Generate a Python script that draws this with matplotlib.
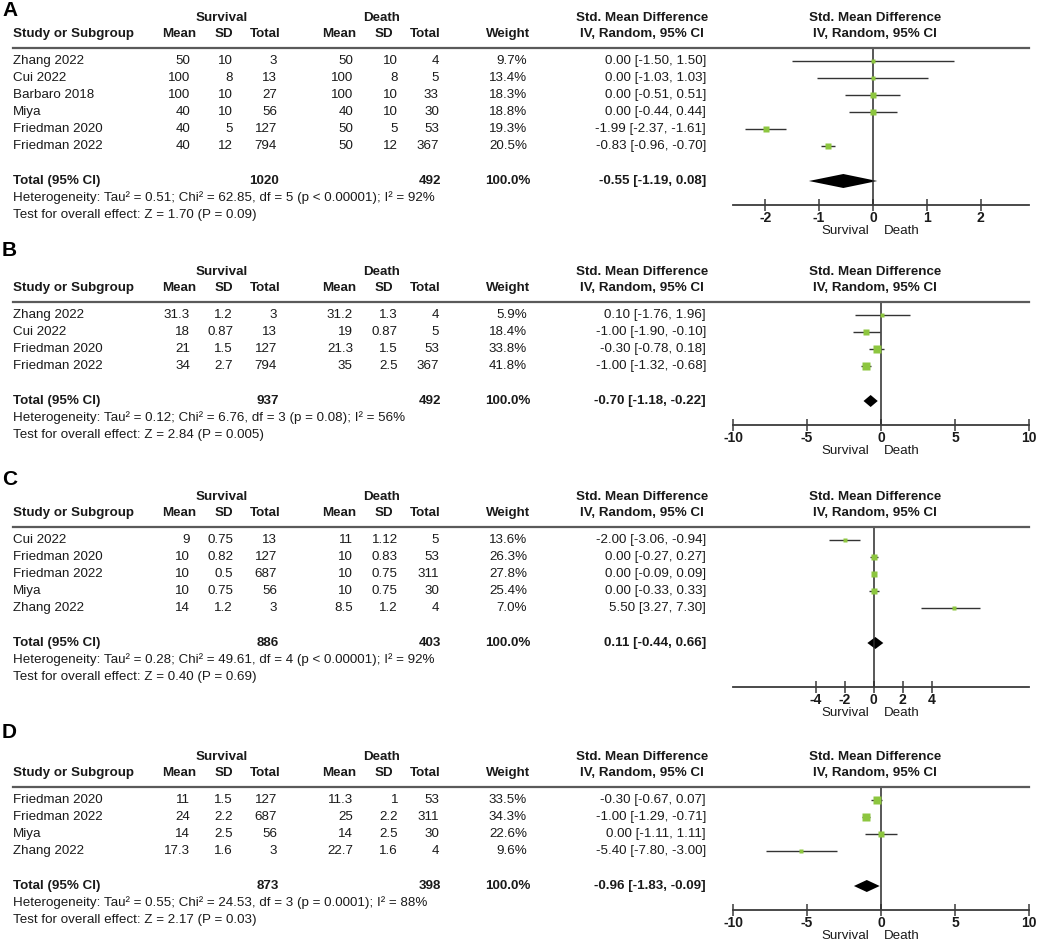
import numpy as np
import matplotlib
matplotlib.use("Agg")
import matplotlib.pyplot as plt
from matplotlib.lines import Line2D

plt.rcParams['font.family'] = ['Liberation Sans', 'DejaVu Sans']
plt.rcParams['axes.unicode_minus'] = False

# ---- data (one block per panel) ----
panel_labels = ["A", "B", "C", "D"]

studies = [
    ["Zhang 2022", "Cui 2022", "Barbaro 2018", "Miya", "Friedman 2020", "Friedman 2022"],
    ["Zhang 2022", "Cui 2022", "Friedman 2020", "Friedman 2022"],
    ["Cui 2022", "Friedman 2020", "Friedman 2022", "Miya", "Zhang 2022"],
    ["Friedman 2020", "Friedman 2022", "Miya", "Zhang 2022"],
]
surv_mean = [[50, 100, 100, 40, 40, 40], [31.3, 18, 21, 34], [9, 10, 10, 10, 14], [11, 24, 14, 17.3]]
surv_sd = [[10, 8, 10, 10, 5, 12], [1.2, 0.87, 1.5, 2.7], [0.75, 0.82, 0.5, 0.75, 1.2], [1.5, 2.2, 2.5, 1.6]]
surv_n = [[3, 13, 27, 56, 127, 794], [3, 13, 127, 794], [13, 127, 687, 56, 3], [127, 687, 56, 3]]
death_mean = [[50, 100, 100, 40, 50, 50], [31.2, 19, 21.3, 35], [11, 10, 10, 10, 8.5], [11.3, 25, 14, 22.7]]
death_sd = [[10, 8, 10, 10, 5, 12], [1.3, 0.87, 1.5, 2.5], [1.12, 0.83, 0.75, 0.75, 1.2], [1, 2.2, 2.5, 1.6]]
death_n = [[4, 5, 33, 30, 53, 367], [4, 5, 53, 367], [5, 53, 311, 30, 4], [53, 311, 30, 4]]
weight = [[9.7, 13.4, 18.3, 18.8, 19.3, 20.5], [5.9, 18.4, 33.8, 41.8],
          [13.6, 26.3, 27.8, 25.4, 7.0], [33.5, 34.3, 22.6, 9.6]]
smd = [[0.00, 0.00, 0.00, 0.00, -1.99, -0.83], [0.10, -1.00, -0.30, -1.00],
       [-2.00, 0.00, 0.00, 0.00, 5.50], [-0.30, -1.00, 0.00, -5.40]]
ci_lo = [[-1.50, -1.03, -0.51, -0.44, -2.37, -0.96], [-1.76, -1.90, -0.78, -1.32],
         [-3.06, -0.27, -0.09, -0.33, 3.27], [-0.67, -1.29, -1.11, -7.80]]
ci_hi = [[1.50, 1.03, 0.51, 0.44, -1.61, -0.70], [1.96, -0.10, 0.18, -0.68],
         [-0.94, 0.27, 0.09, 0.33, 7.30], [0.07, -0.71, 1.11, -3.00]]

total_surv = [1020, 937, 886, 873]
total_death = [492, 492, 403, 398]
pooled = [-0.55, -0.70, 0.11, -0.96]
pooled_lo = [-1.19, -1.18, -0.44, -1.83]
pooled_hi = [0.08, -0.22, 0.66, -0.09]
heterogeneity = [
    "Heterogeneity: Tau² = 0.51; Chi² = 62.85, df = 5 (p < 0.00001); I² = 92%",
    "Heterogeneity: Tau² = 0.12; Chi² = 6.76, df = 3 (p = 0.08); I² = 56%",
    "Heterogeneity: Tau² = 0.28; Chi² = 49.61, df = 4 (p < 0.00001); I² = 92%",
    "Heterogeneity: Tau² = 0.55; Chi² = 24.53, df = 3 (p = 0.0001); I² = 88%",
]
overall = [
    "Test for overall effect: Z = 1.70 (P = 0.09)",
    "Test for overall effect: Z = 2.84 (P = 0.005)",
    "Test for overall effect: Z = 0.40 (P = 0.69)",
    "Test for overall effect: Z = 2.17 (P = 0.03)",
]
x_ticks = [[-2, -1, 0, 1, 2], [-10, -5, 0, 5, 10], [-4, -2, 0, 2, 4], [-10, -5, 0, 5, 10]]

# ---- layout (pixels from top-left) ----
W, H = 1038, 943
label_y = [10, 251, 480, 732]
group_y = [18, 272, 497, 757]
axis_gap = [24, 24, 44, 24]
x_lims = [(-2.6, 2.9), (-10, 10), (-9.7, 10.7), (-10, 10)]

TXT = '#1a1a1a'
FS = 9.6
GREEN = '#8DC63F'

fig = plt.figure(figsize=(W / 100, H / 100), dpi=100)


def T(x, y, s, ha='left', bold=False, size=FS, color=TXT):
    fig.text(x / W, 1 - y / H, s, ha=ha, va='center', fontsize=size,
             fontweight='bold' if bold else 'normal', color=color)


def num(v):
    return str(v)


for p in range(4):
    gy = group_y[p]
    hy = gy + 16
    line_y = gy + 30
    row0 = gy + 43
    n = len(studies[p])
    rows = [row0 + 17 * i for i in range(n)]
    tot_y = rows[-1] + 35
    axis_y = tot_y + axis_gap[p]

    T(2, label_y[p], panel_labels[p], bold=True, size=15, color='black')

    # group headers
    T(222, gy, "Survival", ha='center', bold=True)
    T(382, gy, "Death", ha='center', bold=True)
    T(642, gy, "Std. Mean Difference", ha='center', bold=True)
    T(875, gy, "Std. Mean Difference", ha='center', bold=True)

    # column headers
    T(13, hy, "Study or Subgroup", bold=True)
    T(196, hy, "Mean", ha='right', bold=True)
    T(233, hy, "SD", ha='right', bold=True)
    T(281, hy, "Total", ha='right', bold=True)
    T(356, hy, "Mean", ha='right', bold=True)
    T(393, hy, "SD", ha='right', bold=True)
    T(441, hy, "Total", ha='right', bold=True)
    T(530, hy, "Weight", ha='right', bold=True)
    T(642, hy, "IV, Random, 95% CI", ha='center', bold=True)
    T(875, hy, "IV, Random, 95% CI", ha='center', bold=True)

    fig.add_artist(Line2D([13 / W, 1029 / W], [1 - line_y / H] * 2,
                          color='#5a5a5a', lw=1.6, transform=fig.transFigure))

    for i in range(n):
        y = rows[i]
        T(13, y, studies[p][i])
        T(190, y, num(surv_mean[p][i]), ha='right')
        T(233, y, num(surv_sd[p][i]), ha='right')
        T(277, y, num(surv_n[p][i]), ha='right')
        T(353, y, num(death_mean[p][i]), ha='right')
        T(398, y, num(death_sd[p][i]), ha='right')
        T(439, y, num(death_n[p][i]), ha='right')
        T(527, y, "%.1f%%" % weight[p][i], ha='right')
        T(706, y, "%.2f [%.2f, %.2f]" % (smd[p][i], ci_lo[p][i], ci_hi[p][i]), ha='right')

    T(13, tot_y, "Total (95% CI)", bold=True)
    T(279, tot_y, str(total_surv[p]), ha='right', bold=True)
    T(441, tot_y, str(total_death[p]), ha='right', bold=True)
    T(530, tot_y, "100.0%", ha='right', bold=True)
    T(706, tot_y, "%.2f [%.2f, %.2f]" % (pooled[p], pooled_lo[p], pooled_hi[p]),
      ha='right', bold=True)
    T(13, tot_y + 17, heterogeneity[p])
    T(13, tot_y + 34, overall[p])

    # forest plot
    x0, x1 = 733, 1029
    ax = fig.add_axes([x0 / W, 1 - axis_y / H, (x1 - x0) / W, (axis_y - line_y) / H])
    ax.set_xlim(*x_lims[p])
    ax.set_ylim(axis_y, line_y)
    ax.patch.set_alpha(0)
    for s in ['left', 'right', 'top']:
        ax.spines[s].set_visible(False)
    ax.spines['bottom'].set_color('#3a3a3a')
    ax.spines['bottom'].set_linewidth(1.3)
    ax.set_yticks([])
    ax.set_xticks(x_ticks[p])
    ax.tick_params(axis='x', direction='inout', length=8, width=1.1, color='#3a3a3a',
                   pad=0, labelsize=FS + 0.5, labelcolor=TXT)
    for lab in ax.get_xticklabels():
        lab.set_fontweight('bold')
    ax.axvline(0, color='#2a2a2a', lw=1.1)

    ax.hlines(rows, ci_lo[p], ci_hi[p], color='#333333', lw=1.0)
    for i in range(n):
        side_px = max(2.6, 1.3 * np.sqrt(weight[p][i]))
        ax.plot(smd[p][i], rows[i], 's', color=GREEN, mec='none', ms=side_px * 0.72)

    dh = 14 if p == 0 else 12
    ax.fill([pooled_lo[p], pooled[p], pooled_hi[p], pooled[p]],
            [tot_y, tot_y - dh / 2, tot_y, tot_y + dh / 2], color='black', lw=0)

    T(869, axis_y + 26, "Survival", ha='right')
    T(884, axis_y + 26, "Death", ha='left')

fig.savefig("out.png", dpi=100)
